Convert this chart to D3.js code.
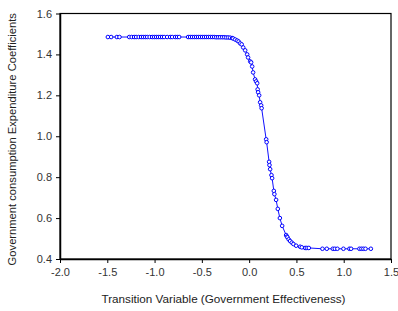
<!DOCTYPE html>
<html><head><meta charset="utf-8">
<script src="https://cdn.jsdelivr.net/npm/d3@7"></script>
<style>body{margin:0;background:#fff;}svg{display:block;font-family:"Liberation Sans",Arial,sans-serif;}</style>
</head><body>
<svg id="c" width="398" height="311"></svg>
<script>
const xValues = [-1.494,-1.459,-1.399,-1.371,-1.268,-1.242,-1.216,-1.195,-1.168,-1.142,-1.121,-1.099,-1.078,-1.052,-1.025,-1.004,-0.983,-0.962,-0.941,-0.920,-0.899,-0.867,-0.835,-0.814,-0.782,-0.761,-0.740,-0.645,-0.624,-0.603,-0.581,-0.560,-0.539,-0.518,-0.497,-0.476,-0.455,-0.433,-0.412,-0.391,-0.370,-0.349,-0.328,-0.307,-0.285,-0.264,-0.243,-0.222,-0.201,-0.180,
-0.169,-0.148,-0.127,-0.111,-0.095,-0.079,-0.063,-0.042,-0.021,-0.011,0.011,0.021,0.032,0.042,0.063,0.074,0.085,0.090,0.095,0.106,0.116,0.127,0.132,0.180,0.185,0.211,0.215,0.222,0.236,0.243,0.261,0.267,0.285,0.303,0.325,0.349,0.391,0.399,0.405,0.418,0.433,0.451,0.468,0.497,0.539,0.557,0.592,0.610,0.631,
0.775,0.821,0.885,0.906,0.933,0.997,1.060,1.078,1.166,1.187,1.208,1.230,1.287];
const yValues = [1.485,1.485,1.485,1.485,1.485,1.485,1.485,1.485,1.485,1.485,1.485,1.485,1.485,1.485,1.485,1.485,1.485,1.485,1.485,1.485,1.485,1.485,1.485,1.485,1.485,1.485,1.485,1.485,1.485,1.485,1.485,1.485,1.485,1.485,1.485,1.485,1.485,1.485,1.485,1.485,1.485,1.484,1.484,1.484,1.484,1.484,1.483,1.483,1.482,1.480,
1.478,1.473,1.468,1.463,1.454,1.449,1.434,1.420,1.400,1.385,1.366,1.361,1.341,1.312,1.278,1.268,1.259,1.229,1.215,1.200,1.166,1.151,1.137,0.985,0.971,0.875,0.859,0.839,0.810,0.795,0.733,0.717,0.689,0.645,0.600,0.562,0.517,0.510,0.506,0.496,0.488,0.480,0.473,0.465,0.460,0.457,0.454,0.454,0.454,
0.450,0.450,0.450,0.450,0.450,0.450,0.450,0.450,0.450,0.450,0.450,0.450,0.450];
const xTicks = [-2.0,-1.5,-1.0,-0.5,0.0,0.5,1.0,1.5];
const yTicks = [0.4,0.6,0.8,1.0,1.2,1.4,1.6];
const xTitle = "Transition Variable (Government Effectiveness)";
const yTitle = "Government consumption Expenditure Coefficients";

const svg = d3.select("#c");
const L=60, R=391, T=13.5, B=259;
const x = d3.scaleLinear().domain([-2,1.5]).range([L,R]);
const y = d3.scaleLinear().domain([0.4,1.6]).range([B,T]);
const data = xValues.map((v,i)=>({x:v,y:yValues[i]}));
const fmt = d => d.toFixed(1);

svg.append("rect").attr("x",L).attr("y",T).attr("width",R-L).attr("height",B-T)
  .attr("fill","none").attr("stroke","#000").attr("stroke-width",1.2);

const xa = svg.append("g").attr("transform",`translate(0,${B})`)
  .call(d3.axisBottom(x).tickValues(xTicks).tickFormat(fmt).tickSize(4).tickSizeOuter(0));
const ya = svg.append("g").attr("transform",`translate(${L},0)`)
  .call(d3.axisLeft(y).tickValues(yTicks).tickFormat(fmt).tickSize(4).tickSizeOuter(0));
[xa,ya].forEach(g=>{
  g.select(".domain").attr("stroke","#000").attr("stroke-width",1.5);
  g.selectAll(".tick line").attr("stroke","#000");
  g.selectAll("text").attr("font-size",11).attr("fill","#333").attr("font-family","Liberation Sans, Arial, sans-serif");
});
xa.selectAll("text").attr("dy","0.95em");
ya.selectAll("text").attr("dx","-1");

svg.append("path").datum(data)
  .attr("d",d3.line().x(d=>x(d.x)).y(d=>y(d.y)))
  .attr("fill","none").attr("stroke","#1010ff").attr("stroke-width",1);
svg.append("g").selectAll("circle").data(data).join("circle")
  .attr("cx",d=>x(d.x)).attr("cy",d=>y(d.y)).attr("r",1.8)
  .attr("fill","#fff").attr("stroke","#0000ff").attr("stroke-width",1);

svg.append("text").attr("x",(L+R)/2-2).attr("y",303).attr("text-anchor","middle")
  .attr("font-size",11.7).attr("fill","#222").text(xTitle);
svg.append("text").attr("transform",`translate(16,${(T+B)/2+3}) rotate(-90)`).attr("text-anchor","middle")
  .attr("font-size",11.2).attr("fill","#222").text(yTitle);
</script>
</body></html>
